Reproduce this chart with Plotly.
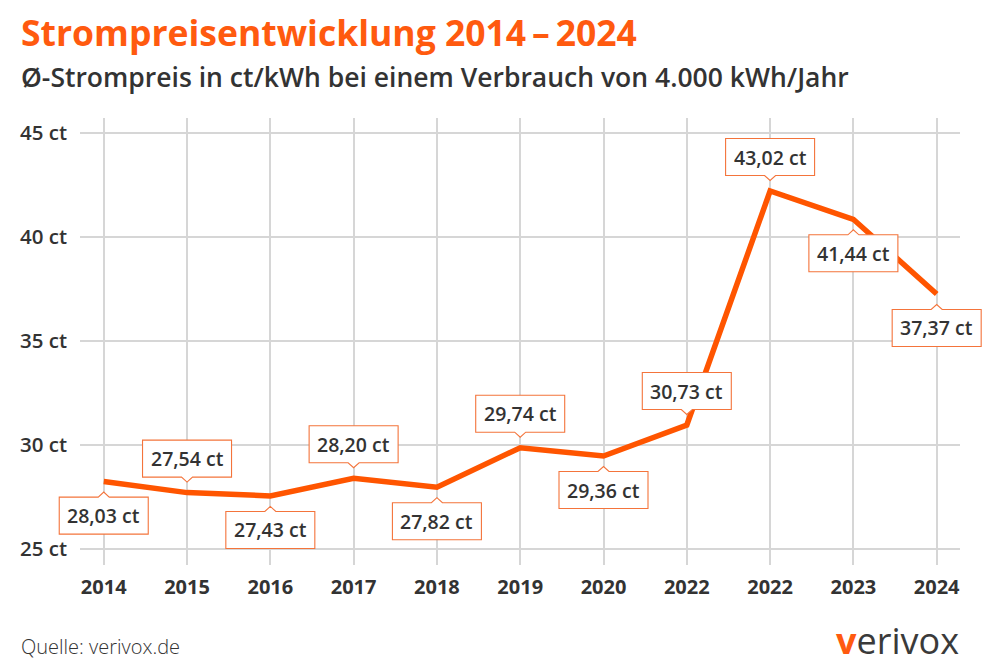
import plotly.graph_objects as go

# ---- data ----
years = ["2014", "2015", "2016", "2017", "2018", "2019", "2020", "2022", "2022", "2023", "2024"]
price_ct = [28.24, 27.71, 27.55, 28.40, 27.97, 29.87, 29.47, 30.96, 42.21, 40.85, 37.26]
label_text = ["28,03 ct", "27,54 ct", "27,43 ct", "28,20 ct", "27,82 ct", "29,74 ct",
              "29,36 ct", "30,73 ct", "43,02 ct", "41,44 ct", "37,37 ct"]
label_side = ["below", "above", "below", "above", "below", "above",
              "below", "above", "above", "below", "below"]
y_ticks = [25, 30, 35, 40, 45]

# ---- style ----
ORANGE = "#FF5500"
BOX = "#F4743B"
DARK = "#333333"
GRID = "#D6D6D6"
FONT = "Open Sans"

W, H = 999, 670
L, R, T, B = 80, 39, 118, 105
PW, PH = W - L - R, H - T - B
XR = [-0.285, 10.28]
YR = [24.23, 45.72]

def pxx(p):
    return (p - L) / PW

def pxy(p):
    return (H - B - p) / PH

def data_to_paper_x(x):
    return (x - XR[0]) / (XR[1] - XR[0])

def data_to_paper_y(y):
    return (y - YR[0]) / (YR[1] - YR[0])

xs = list(range(len(years)))

fig = go.Figure()
fig.add_trace(go.Scatter(
    x=xs, y=price_ct, mode="lines",
    line=dict(color=ORANGE, width=5.5, shape="linear"),
    hoverinfo="skip", showlegend=False,
))

shapes = []
annotations = []
half_w, box_h, gap, tip, notch = 44.5, 37, 15.5, 10.5, 5.5
for i, (v, t, side) in enumerate(zip(price_ct, label_text, label_side)):
    if side == "above":
        b0 = gap
        b1 = gap + box_h
        path = (f"M {-half_w},{b0} L {-notch},{b0} L 0,{tip} L {notch},{b0} L {half_w},{b0} "
                f"L {half_w},{b1} L {-half_w},{b1} Z")
        ys = gap + box_h / 2
    else:
        b0 = -gap
        b1 = -gap - box_h
        path = (f"M {-half_w},{b0} L {-notch},{b0} L 0,{-tip} L {notch},{b0} L {half_w},{b0} "
                f"L {half_w},{b1} L {-half_w},{b1} Z")
        ys = -gap - box_h / 2
    shapes.append(dict(
        type="path", xref="paper", yref="paper", xsizemode="pixel", ysizemode="pixel",
        xanchor=data_to_paper_x(i), yanchor=data_to_paper_y(v), path=path,
        fillcolor="white", line=dict(color=BOX, width=1.1), layer="above",
    ))
    annotations.append(dict(
        x=i, y=v, xref="x", yref="y", text=t, showarrow=False,
        yshift=ys, xanchor="center", yanchor="middle",
        font=dict(family=FONT, size=19.5, color=DARK, weight=600),
    ))

# title / subtitle / footer
annotations += [
    dict(x=pxx(19), y=pxy(32), xref="paper", yref="paper", xanchor="left", yanchor="middle",
         text="Strompreisentwicklung 2014\u2009\u2013\u20092024", showarrow=False,
         font=dict(family=FONT, size=35.5, color="#FF5A0F", weight=700)),
    dict(x=pxx(19), y=pxy(77), xref="paper", yref="paper", xanchor="left", yanchor="middle",
         text="\u00d8-Strompreis in ct/kWh bei einem Verbrauch von 4.000 kWh/Jahr", showarrow=False,
         font=dict(family=FONT, size=26.5, color=DARK, weight=600)),
    dict(x=pxx(19), y=pxy(646), xref="paper", yref="paper", xanchor="left", yanchor="middle",
         text="Quelle: verivox.de", showarrow=False,
         font=dict(family=FONT, size=20, color=DARK, weight=300)),
    dict(x=pxx(961), y=pxy(640), xref="paper", yref="paper", xanchor="right", yanchor="middle",
         text="<span style='color:#FF5A0F'><b>v</b></span>erivox", showarrow=False,
         font=dict(family=FONT, size=36, color="#3A3A3A", weight=500)),
]

fig.update_layout(
    width=W, height=H,
    margin=dict(l=L, r=R, t=T, b=B, pad=0),
    paper_bgcolor="white", plot_bgcolor="white",
    shapes=shapes, annotations=annotations,
    showlegend=False,
)
fig.update_xaxes(
    range=XR, tickmode="array", tickvals=xs, ticktext=years,
    showgrid=True, gridcolor=GRID, gridwidth=1.5, zeroline=False, showline=False,
    ticks="", ticklabelstandoff=8,
    tickfont=dict(family=FONT, size=20, color=DARK, weight=700),
)
fig.update_yaxes(
    range=YR, tickmode="array", tickvals=y_ticks,
    ticktext=[f"{v} ct" for v in y_ticks],
    showgrid=True, gridcolor=GRID, gridwidth=1.5, zeroline=False, showline=False,
    ticks="", ticklabelstandoff=12,
    tickfont=dict(family=FONT, size=20.5, color=DARK, weight=600),
)

fig.write_html("out.html", config={"displayModeBar": False},
               post_script="document.body.style.margin='0';")
